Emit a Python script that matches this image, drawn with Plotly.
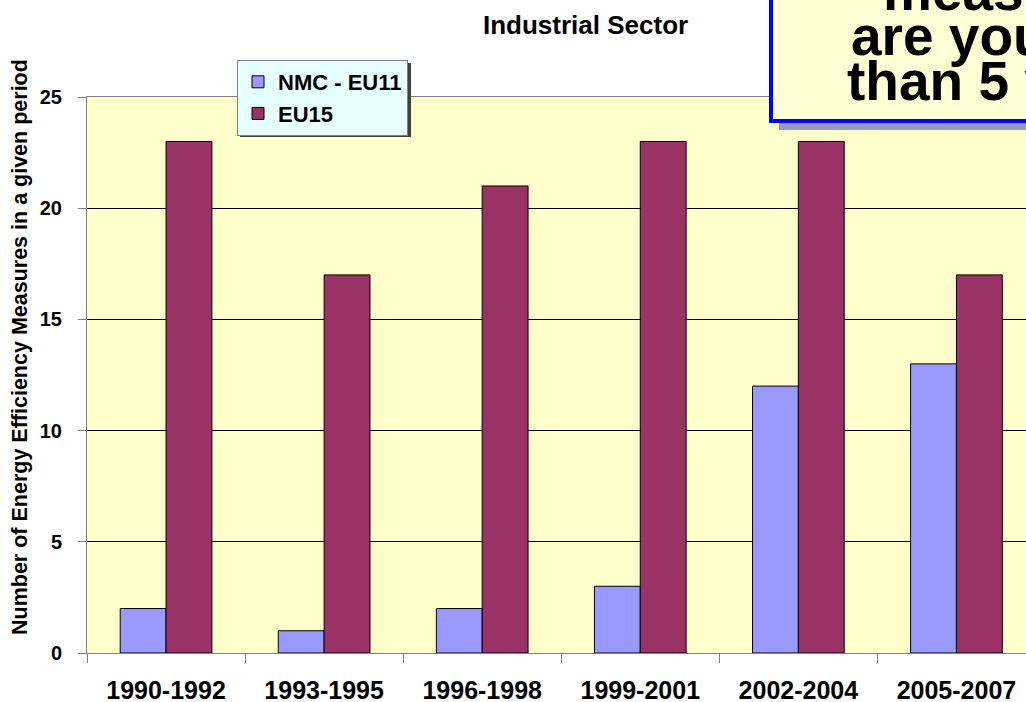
import plotly.graph_objects as go

categories = ["1990-1992", "1993-1995", "1996-1998", "1999-2001", "2002-2004", "2005-2007"]
nmc_eu11 = [2, 1, 2, 3, 12, 13]
eu15 = [23, 17, 21, 23, 23, 17]
y_ticks = [0, 5, 10, 15, 20, 25]

W, H = 1026, 702
L, R, T, B = 87, 1026, 97, 653
FONT = "Arial, Liberation Sans, sans-serif"

def px(x):
    return (x - L) / (R - L)

def py(y):
    return (B - y) / (B - T)

fig = go.Figure()
fig.add_trace(go.Bar(name="<b>NMC - EU11</b>", x=categories, y=nmc_eu11,
                     marker=dict(color="#9999FF", line=dict(color="#000000", width=1))))
fig.add_trace(go.Bar(name="<b>EU15</b>", x=categories, y=eu15,
                     marker=dict(color="#993366", line=dict(color="#000000", width=1))))

shapes = [
    # legend shadow
    dict(type="rect", xref="paper", yref="paper", x0=px(240), x1=px(411), y0=py(137), y1=py(63),
         fillcolor="#404040", line=dict(width=0), layer="above"),
    # callout shadow
    dict(type="rect", xref="paper", yref="paper", x0=px(779), x1=px(1100), y0=py(130), y1=py(-20),
         fillcolor="#9999BB", line=dict(width=0), layer="above"),
    # callout box
    dict(type="rect", xref="paper", yref="paper", x0=px(771), x1=px(1100), y0=py(121), y1=py(-20),
         fillcolor="#FFFFD6", line=dict(color="#0000FF", width=4), layer="above"),
]

annotations = [
    dict(text="<b>Industrial Sector</b>", xref="paper", yref="paper", x=px(585), y=py(25),
         showarrow=False, font=dict(family=FONT, size=26, color="#000000"),
         xanchor="center", yanchor="middle"),
    dict(text="<b>Number of Energy Efficiency Measures in a given period</b>", xref="paper", yref="paper",
         x=px(20), y=py(347), textangle=-90, showarrow=False,
         font=dict(family=FONT, size=21.5, color="#000000"), xanchor="center", yanchor="middle"),
    dict(text="<b>measures</b>", xref="paper", yref="paper", x=px(881), y=py(-9),
         showarrow=False, font=dict(family=FONT, size=55, color="#000000"),
         xanchor="left", yanchor="middle"),
    dict(text="<b>are younger</b>", xref="paper", yref="paper", x=px(849), y=py(36),
         showarrow=False, font=dict(family=FONT, size=55, color="#000000"),
         xanchor="left", yanchor="middle"),
    dict(text="<b>than 5 years</b>", xref="paper", yref="paper", x=px(845), y=py(81),
         showarrow=False, font=dict(family=FONT, size=55, color="#000000"),
         xanchor="left", yanchor="middle"),
]

fig.update_layout(
    width=W, height=H,
    margin=dict(l=L, r=W - R, t=T, b=H - B, autoexpand=False),
    paper_bgcolor="#FFFFFF", plot_bgcolor="#FFFFCC",
    barmode="group", bargap=0.42, bargroupgap=0,
    font=dict(family=FONT, color="#000000"),
    showlegend=True,
    legend=dict(x=px(237), y=py(60), xanchor="left", yanchor="top",
                bgcolor="#E6FFFF", bordercolor="#808080", borderwidth=1,
                font=dict(family=FONT, size=22, color="#000000"),
                itemwidth=30, tracegroupgap=0),
    shapes=shapes, annotations=annotations,
)
fig.update_xaxes(range=[-0.5, 5.44], tickson="boundaries", ticks="outside", ticklen=9,
                 tickcolor="#808080", showline=True, linecolor="#808080", mirror=True,
                 showgrid=False, tickfont=dict(family=FONT, size=25, color="#000000", weight="bold"),
                 ticklabelstandoff=15)
fig.update_yaxes(range=[0, 25], tickvals=y_ticks, ticks="outside", ticklen=8,
                 tickcolor="#808080", showline=True, linecolor="#808080", mirror=True,
                 showgrid=True, gridcolor="#000000", gridwidth=1, zeroline=False,
                 tickfont=dict(family=FONT, size=20, color="#000000", weight="bold"),
                 ticklabelstandoff=12)

fig.write_html("out.html", config={"displayModeBar": False},
               post_script="document.body.style.margin='0';document.body.style.overflow='hidden';")
